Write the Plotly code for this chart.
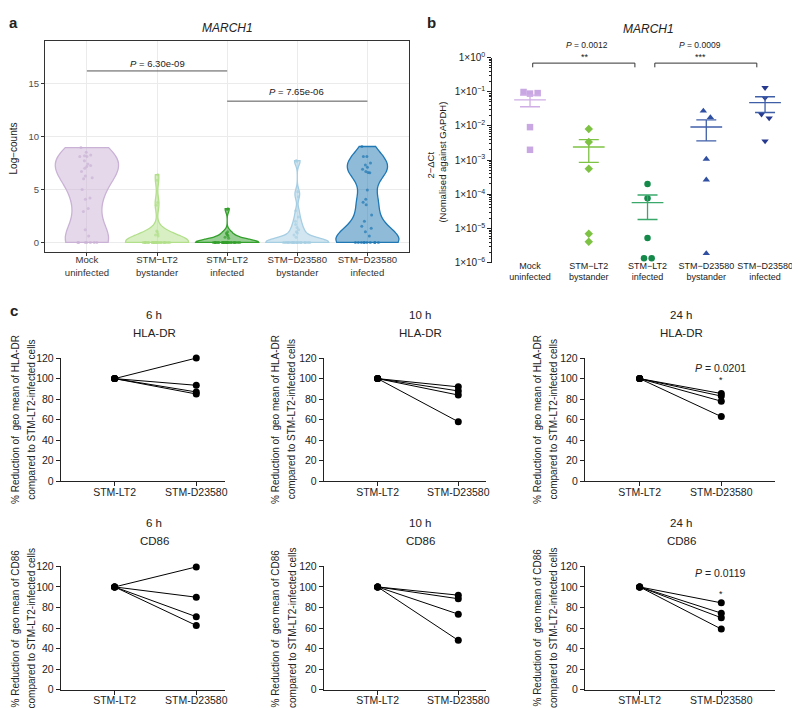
import numpy as np
import plotly.graph_objects as go

W, H = 800, 708
FONT = "Liberation Sans, Arial, sans-serif"


def X(px):
    return px / W


def Y(py):
    return 1 - py / H


# ---------------- DATA ----------------
# Panel a: MARCH1 log-counts per group (single cells)
a_categories = ["Mock<br>uninfected", "STM−LT2<br>bystander", "STM−LT2<br>infected",
                "STM−D23580<br>bystander", "STM−D23580<br>infected"]
a_mock = [0, 0, 0, 0, 0, 0, 0, 0.6, 1.2, 2.93, 3.2, 4.07, 4.2, 5.0, 6.0, 6.1, 6.27, 6.7,
          7.0, 7.16, 7.25, 7.4, 7.7, 8.1, 8.1, 8.18, 8.24, 8.5, 8.95]
a_lt2_byst = [0, 0, 0, 0, 0, 0, 0, 0, 0, 0, 0, 0, 0, 0, 0, 0, 0, 0, 0, 0, 0, 0, 0, 0, 0, 0,
              0, 0, 0, 0, 0.6, 0.7, 0.8, 1.0, 1.08, 3.5, 3.77, 5.87, 6.39]
a_lt2_inf = [0, 0, 0, 0, 0, 0, 0, 0, 0, 0, 0, 0, 0, 0, 0, 0, 0, 0, 0, 0, 0, 0, 0, 0, 0, 0,
             0, 0, 0, 0, 0.4, 0.5, 0.6, 0.7, 0.8, 0.9, 1.0, 3.1, 3.18]
a_d_byst = [0, 0, 0, 0, 0, 0, 0, 0, 0, 0, 0, 0, 0, 0, 0, 0, 0, 0, 0, 0, 0, 0, 0.5, 0.7, 0.9,
            1.0, 1.2, 1.4, 1.7, 2.0, 2.4, 3.0, 4.32, 4.78, 7.65, 7.72]
a_d_inf = [0, 0, 0, 0, 0, 0, 0, 0, 0, 0, 0.6, 1.0, 1.33, 1.54, 2.0, 2.6, 3.55, 3.8, 4.07, 4.94,
           6.57, 6.6, 6.7, 6.9, 7.1, 7.3, 7.5, 8.1, 8.1, 9.05]
a_pvalues = ["<i>P</i> = 6.30e-09", "<i>P</i> = 7.65e-06"]

# Panel b: 2^-dCt (normalised against GAPDH), 5 donors per group
b_categories = a_categories
b_mock = [0.098, 0.088, 0.091, 0.0092, 0.0020]
b_lt2_byst = [0.0081, 0.0034, 0.00056, 0.0000070, 0.0000041]
b_lt2_inf = [0.00020, 0.000076, 0.0000053, 0.00000135, 0.00000135]
b_d_byst = [0.0274, 0.0177, 0.00107, 0.000266, 0.00000186]
b_d_inf = [0.131, 0.066, 0.022, 0.017, 0.0036]
b_pvalues = ["<i>P</i> = 0.0012", "<i>P</i> = 0.0009"]
b_stars = ["**", "***"]

# Panel c: % of STM-LT2 geo mean, STM-LT2 = 100 for every donor
c_categories = ["STM-LT2", "STM-D23580"]
c_hladr_6h = [120, 93.5, 87, 85]
c_hladr_10h = [92, 88, 84, 58]
c_hladr_24h = [85.5, 83, 78, 63]
c_cd86_6h = [119.5, 90, 71, 62.5]
c_cd86_10h = [92, 88.5, 73.5, 48]
c_cd86_24h = [84.5, 74.5, 70, 59]
c_reference = 100
c_pvalues = {"24h_hladr": "<i>P</i> = 0.0201", "24h_cd86": "<i>P</i> = 0.0119"}


def nrd0(v):
    v = np.asarray(v, float)
    sd = v.std(ddof=1)
    q75, q25 = np.percentile(v, [75, 25])
    lo = min(sd, (q75 - q25) / 1.34)
    if lo == 0:
        lo = sd
    return 0.9 * lo * len(v) ** -0.2


fig = go.Figure()

# ---------------- PANEL A ----------------
a_groups = [a_mock, a_lt2_byst, a_lt2_inf, a_d_byst, a_d_inf]
a_line = ["#cab2d6", "#b2df8a", "#33a02c", "#a6cee3", "#1f78b4"]
a_fill = ["rgba(202,178,214,0.5)", "rgba(178,223,138,0.5)", "rgba(51,160,44,0.5)",
          "rgba(166,206,227,0.5)", "rgba(31,120,180,0.5)"]
a_bw_scale = [1.0, 1.0, 1.0, 1.0, 0.7]
for i, vals in enumerate(a_groups):
    fig.add_trace(go.Violin(
        x=[i + 1] * len(vals), y=vals, xaxis="x", yaxis="y",
        width=0.9, scalemode="width", spanmode="hard", bandwidth=nrd0(vals) * a_bw_scale[i],
        line=dict(color=a_line[i], width=1.3), fillcolor=a_fill[i],
        points="all", pointpos=0, jitter=0.45,
        marker=dict(size=3, color=a_line[i], opacity=0.7),
        box_visible=False, meanline_visible=False, showlegend=False, hoverinfo="skip"))

# significance bars (panel a)
a_bar_y = [16.18, 13.33]
a_bar_x = [(1, 3), (3, 5)]
for (x0, x1), yy in zip(a_bar_x, a_bar_y):
    fig.add_trace(go.Scatter(x=[x0, x1], y=[yy, yy], xaxis="x", yaxis="y", mode="lines",
                             line=dict(color="#555555", width=1), showlegend=False,
                             hoverinfo="skip"))

# ---------------- PANEL B ----------------
b_groups = [b_mock, b_lt2_byst, b_lt2_inf, b_d_byst, b_d_inf]
b_offsets = [[-0.11, 0, 0.13, 0, 0], [0, 0, 0, 0, 0], [0, 0, 0, -0.06, 0.07],
             [-0.05, 0.07, 0, 0, 0], [0, 0, -0.06, 0.07, 0]]
b_symbols = ["square", "diamond", "circle", "triangle-up", "triangle-down"]
b_mcolor = ["#c9a7e3", "#7dc242", "#14894a", "#2f4fa2", "#27398e"]
b_lcolor = ["#cfaee6", "#7dc242", "#3aa86a", "#3f5ea8", "#3f5ea8"]
for i, vals in enumerate(b_groups):
    v = np.asarray(vals)
    m = v.mean()
    sem = v.std(ddof=1) / np.sqrt(len(v))
    fig.add_trace(go.Scatter(
        x=[i + o for o in b_offsets[i]], y=vals, xaxis="x2", yaxis="y2", mode="markers",
        marker=dict(symbol=b_symbols[i], size=6.5, color=b_mcolor[i], line=dict(width=0)),
        showlegend=False, hoverinfo="skip", cliponaxis=False))
    xs = [i - 0.27, i + 0.27, None, i - 0.17, i + 0.17, None, i - 0.17, i + 0.17, None, i, i]
    ys = [m, m, None, m + sem, m + sem, None, m - sem, m - sem, None, m - sem, m + sem]
    fig.add_trace(go.Scatter(x=xs, y=ys, xaxis="x2", yaxis="y2", mode="lines",
                             line=dict(color=b_lcolor[i], width=1.3), showlegend=False,
                             hoverinfo="skip", cliponaxis=False))

b_brackets = [(0.046, 1.785), (2.124, 3.86)]
b_br_top, b_br_bot = 10 ** -0.164, 10 ** -0.287
for x0, x1 in b_brackets:
    fig.add_trace(go.Scatter(x=[x0, x0, x1, x1], y=[b_br_bot, b_br_top, b_br_top, b_br_bot],
                             xaxis="x2", yaxis="y2", mode="lines",
                             line=dict(color="#333333", width=1), showlegend=False,
                             hoverinfo="skip", cliponaxis=False))

# ---------------- PANEL C ----------------
c_panels = [c_hladr_6h, c_hladr_10h, c_hladr_24h, c_cd86_6h, c_cd86_10h, c_cd86_24h]
for k, vals in enumerate(c_panels):
    xs, ys = [], []
    for v in vals:
        xs += [0, 1, None]
        ys += [c_reference, v, None]
    fig.add_trace(go.Scatter(x=xs, y=ys, xaxis=f"x{k + 3}", yaxis=f"y{k + 3}",
                             mode="lines+markers", line=dict(color="black", width=1),
                             marker=dict(size=7, color="black"), showlegend=False,
                             hoverinfo="skip", cliponaxis=False))

# ---------------- AXES ----------------
layout = dict(width=W, height=H, margin=dict(l=0, r=0, t=0, b=0),
              paper_bgcolor="white", plot_bgcolor="white", violinmode="overlay",
              font=dict(family=FONT, color="#222222"))

frame = dict(showline=True, mirror=True, linecolor="#333333", linewidth=1, ticks="outside",
             ticklen=3, tickcolor="#333333", showgrid=True, gridcolor="#ebebeb",
             gridwidth=1, zeroline=False, tickfont=dict(size=9.5, color="#4d4d4d"))
layout["xaxis"] = dict(frame, domain=[X(37), X(403)], range=[0.4, 5.6],
                       tickvals=[1, 2, 3, 4, 5], ticktext=a_categories, anchor="y",
                       tickangle=0, ticklabelstandoff=-4,
                       tickfont=dict(size=9.6, color="#333333"))
layout["yaxis"] = dict(frame, domain=[Y(241), Y(26)], range=[-0.86, 19.05],
                       tickvals=[0, 5, 10, 15], anchor="x")

dec = [0, -1, -2, -3, -4, -5, -6]
layout["xaxis2"] = dict(domain=[X(486), X(800)], range=[-0.644, 4.68], tickvals=[0, 1, 2, 3, 4],
                        ticktext=b_categories, showline=False, ticks="", showgrid=False,
                        zeroline=False, tickfont=dict(size=9, color="#222222"), anchor="y2",
                        tickangle=0, ticklabelstandoff=-4)
layout["yaxis2"] = dict(type="log", domain=[Y(252.3), Y(43.3)], range=[-6, 0],
                        tickvals=[10.0 ** d for d in dec],
                        ticktext=["1×10<sup>" + str(d).replace("-", "−") + "</sup>" for d in dec],
                        showline=True, linecolor="#222222", linewidth=1, ticks="outside",
                        ticklen=4, tickcolor="#222222", showgrid=False, zeroline=False,
                        minor=dict(ticks="outside", ticklen=2, dtick="D1", tickcolor="#222222"),
                        tickfont=dict(size=10, color="#222222"), anchor="x2")

c_cols = [(53, 218, -0.659, 1.354), (317, 480, -0.667, 1.346), (579, 770, -0.671, 1.659)]
c_rows = [(349.5, 475), (561.7, 687.3)]
k = 3
for r, (yt, yb) in enumerate(c_rows):
    for (xl, xr, r0, r1) in c_cols:
        layout[f"xaxis{k}"] = dict(domain=[X(xl), X(xr)], range=[r0, r1], tickvals=[0, 1],
                                   ticktext=c_categories, showline=True, linecolor="#222222",
                                   linewidth=1, ticks="outside", ticklen=4, tickcolor="#222222",
                                   showgrid=False, zeroline=False, tickangle=0,
                                   ticklabelstandoff=-3,
                                   tickfont=dict(size=10.5, color="#222222"), anchor=f"y{k}")
        layout[f"yaxis{k}"] = dict(domain=[Y(yb), Y(yt)], range=[0, 120],
                                   tickvals=[0, 20, 40, 60, 80, 100, 120], showline=True,
                                   linecolor="#222222", linewidth=1, ticks="outside", ticklen=4,
                                   tickcolor="#222222", showgrid=False, zeroline=False,
                                   tickfont=dict(size=10.5, color="#222222"), anchor=f"x{k}")
        k += 1

fig.update_layout(**layout)

# ---------------- TEXT ----------------
ann = []


def text(t, px, py, size, angle=0, color="#222222", xanchor="center"):
    ann.append(dict(text=t, x=X(px), y=Y(py), xref="paper", yref="paper", showarrow=False,
                    xanchor=xanchor, yanchor="middle", textangle=angle,
                    font=dict(size=size, color=color, family=FONT)))


text("<b>a</b>", 6, 8, 15, xanchor="center")
text("<b>b</b>", 425, 8, 15)
text("<b>c</b>", 6, 301, 15)
text("<i>MARCH1</i>", 220, 13, 12)
text("<i>MARCH1</i>", 643, 14, 12)
text("Log−counts", 6, 136, 10, angle=-90, color="#222222")
text(a_pvalues[0], 150, 49, 9.5)
text(a_pvalues[1], 290, 78, 9.5)
text("2−ΔCt", 424, 153, 9.5, angle=-90)
text("(Nomalised against GAPDH)", 436, 150, 9.5, angle=-90)
text(b_pvalues[0], 581, 31, 8.5)
text(b_stars[0], 579, 43, 9)
text(b_pvalues[1], 695, 31, 8.5)
text(b_stars[1], 695, 43, 9)

c_titles_x = [147, 414, 676]
c_times = ["6 h", "10 h", "24 h"]
c_markers = ["HLA-DR", "CD86"]
c_ytitle_x = [(7.5, 23.5), (268.5, 285), (531.5, 547)]
row_title_y = [(306, 324), (517, 536)]
row_center = [412, 624.5]
for r in range(2):
    for c in range(3):
        text(c_times[c], c_titles_x[c], row_title_y[r][0], 11.5)
        text(c_markers[r], c_titles_x[c], row_title_y[r][1], 11.5)
        text(f"% Reduction of  geo mean of {c_markers[r]}", c_ytitle_x[c][0], row_center[r],
             10, angle=-90)
        text("compared to STM-LT2-infected cells", c_ytitle_x[c][1], row_center[r], 10,
             angle=-90)
text(c_pvalues["24h_hladr"], 715, 360, 10.5)
text("*", 716, 372, 9)
text(c_pvalues["24h_cd86"], 715, 568, 10.5)
text("*", 716, 590, 9)

fig.update_layout(annotations=ann)
fig.write_html("out.html")
